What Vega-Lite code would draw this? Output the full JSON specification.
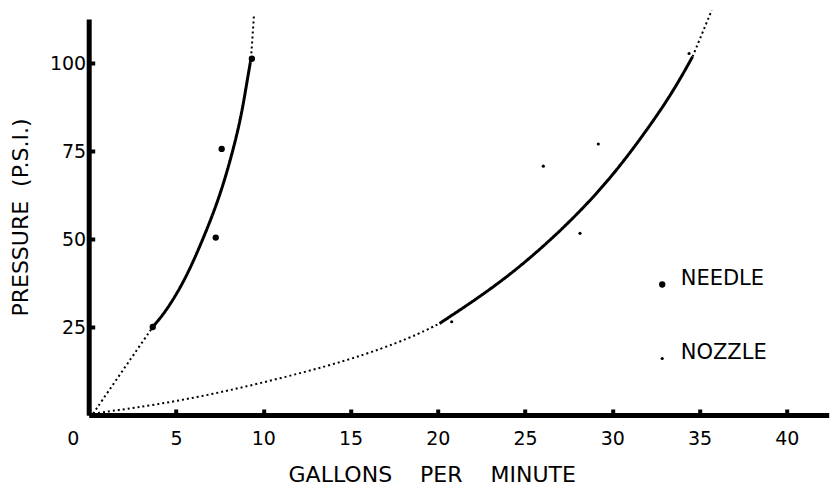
{
  "$schema": "https://vega.github.io/schema/vega-lite/v6.json",
  "width": 740,
  "height": 396,
  "autosize": "none",
  "padding": {"left": 88.7, "top": 19, "right": 2.3, "bottom": 79},
  "background": "white",
  "config": {
    "view": {"stroke": null},
    "font": "DejaVu Sans",
    "axis": {
      "grid": false,
      "domainColor": "black",
      "domainWidth": 5,
      "tickColor": "black",
      "tickWidth": 4,
      "tickSize": -6,
      "labelColor": "black",
      "labelFontSize": 19,
      "titleColor": "black",
      "titleFontWeight": "normal",
      "titleFontSize": 22
    }
  },
  "datasets": {
    "curves": [
      {"segment": "needle-low", "style": "dotted", "gpm": 0.25, "psi": 0.4},
      {"segment": "needle-low", "style": "dotted", "gpm": 2.0, "psi": 13.0},
      {"segment": "needle-low", "style": "dotted", "gpm": 3.7, "psi": 25.2},
      {"segment": "needle-mid", "style": "solid", "gpm": 3.7, "psi": 25.2},
      {"segment": "needle-mid", "style": "solid", "gpm": 4.47, "psi": 29.7},
      {"segment": "needle-mid", "style": "solid", "gpm": 5.62, "psi": 39.2},
      {"segment": "needle-mid", "style": "solid", "gpm": 6.76, "psi": 52.5},
      {"segment": "needle-mid", "style": "solid", "gpm": 7.34, "psi": 60.0},
      {"segment": "needle-mid", "style": "solid", "gpm": 7.91, "psi": 68.6},
      {"segment": "needle-mid", "style": "solid", "gpm": 8.67, "psi": 82.8},
      {"segment": "needle-mid", "style": "solid", "gpm": 9.05, "psi": 94.1},
      {"segment": "needle-mid", "style": "solid", "gpm": 9.3, "psi": 101.3},
      {"segment": "needle-high", "style": "dotted", "gpm": 9.3, "psi": 101.3},
      {"segment": "needle-high", "style": "dotted", "gpm": 9.47, "psi": 113.6},
      {"segment": "nozzle-low", "style": "dotted", "gpm": 0.25, "psi": 0.4},
      {"segment": "nozzle-low", "style": "dotted", "gpm": 5.04, "psi": 3.7},
      {"segment": "nozzle-low", "style": "dotted", "gpm": 9.82, "psi": 8.9},
      {"segment": "nozzle-low", "style": "dotted", "gpm": 14.97, "psi": 15.5},
      {"segment": "nozzle-low", "style": "dotted", "gpm": 18.6, "psi": 22.2},
      {"segment": "nozzle-low", "style": "dotted", "gpm": 20.1, "psi": 26.0},
      {"segment": "nozzle-mid", "style": "solid", "gpm": 20.1, "psi": 26.0},
      {"segment": "nozzle-mid", "style": "solid", "gpm": 22.0, "psi": 32.2},
      {"segment": "nozzle-mid", "style": "solid", "gpm": 24.0, "psi": 39.3},
      {"segment": "nozzle-mid", "style": "solid", "gpm": 26.0, "psi": 47.6},
      {"segment": "nozzle-mid", "style": "solid", "gpm": 28.0, "psi": 57.0},
      {"segment": "nozzle-mid", "style": "solid", "gpm": 30.0, "psi": 67.8},
      {"segment": "nozzle-mid", "style": "solid", "gpm": 32.0, "psi": 81.0},
      {"segment": "nozzle-mid", "style": "solid", "gpm": 33.5, "psi": 92.0},
      {"segment": "nozzle-mid", "style": "solid", "gpm": 34.6, "psi": 101.8},
      {"segment": "nozzle-high", "style": "dotted", "gpm": 34.6, "psi": 101.8},
      {"segment": "nozzle-high", "style": "dotted", "gpm": 35.7, "psi": 115.0}
    ],
    "points": [
      {"type": "NEEDLE", "gpm": 3.67, "psi": 25.0},
      {"type": "NEEDLE", "gpm": 7.28, "psi": 50.4},
      {"type": "NEEDLE", "gpm": 7.62, "psi": 75.6},
      {"type": "NEEDLE", "gpm": 9.35, "psi": 101.2},
      {"type": "NOZZLE", "gpm": 20.8, "psi": 26.5},
      {"type": "NOZZLE", "gpm": 26.05, "psi": 70.7},
      {"type": "NOZZLE", "gpm": 28.15, "psi": 51.6},
      {"type": "NOZZLE", "gpm": 29.2, "psi": 77.0},
      {"type": "NOZZLE", "gpm": 34.4, "psi": 102.7}
    ]
  },
  "layer": [
    {
      "data": {"name": "curves"},
      "mark": {"type": "line", "interpolate": "basis", "color": "black", "clip": false},
      "encoding": {
        "x": {
          "field": "gpm",
          "type": "quantitative",
          "scale": {"domain": [0, 42.4], "nice": false, "zero": true},
          "axis": {
            "values": [0, 5, 10, 15, 20, 25, 30, 35, 40],
            "labelAlign": "center",
            "labelOffset": {"condition": {"test": "datum.value == 0", "value": -16}, "value": 0},
            "labelPadding": 20,
            "title": "GALLONS\u00a0\u00a0\u00a0\u00a0PER\u00a0\u00a0\u00a0\u00a0MINUTE",
            "titleX": 343,
            "titlePadding": 16
          }
        },
        "y": {
          "field": "psi",
          "type": "quantitative",
          "scale": {"domain": [0, 112.5], "nice": false},
          "axis": {
            "values": [25, 50, 75, 100],
            "labelPadding": 9,
            "title": "PRESSURE\u00a0\u00a0(P.S.I.)",
            "titlePadding": 17
          }
        },
        "detail": {"field": "segment"},
        "strokeDash": {
          "field": "style",
          "type": "nominal",
          "scale": {"domain": ["solid", "dotted"], "range": [[1, 0], [2, 3]]},
          "legend": null
        },
        "strokeWidth": {
          "field": "style",
          "type": "nominal",
          "scale": {"domain": ["solid", "dotted"], "range": [3, 2]},
          "legend": null
        }
      }
    },
    {
      "data": {"name": "points"},
      "mark": {"type": "point", "filled": true, "shape": "circle", "color": "black", "opacity": 1},
      "encoding": {
        "x": {"field": "gpm", "type": "quantitative"},
        "y": {"field": "psi", "type": "quantitative"},
        "size": {
          "field": "type",
          "type": "nominal",
          "scale": {"domain": ["NEEDLE", "NOZZLE"], "range": [40, 10]},
          "legend": {
            "orient": "none",
            "legendX": 563,
            "legendY": 255,
            "title": null,
            "labelFontSize": 21,
            "labelColor": "black",
            "labelOffset": 8,
            "rowPadding": 52,
            "labelBaseline": "alphabetic",
            "symbolType": "circle",
            "symbolFillColor": "black",
            "symbolStrokeWidth": 0
          }
        }
      }
    }
  ]
}
